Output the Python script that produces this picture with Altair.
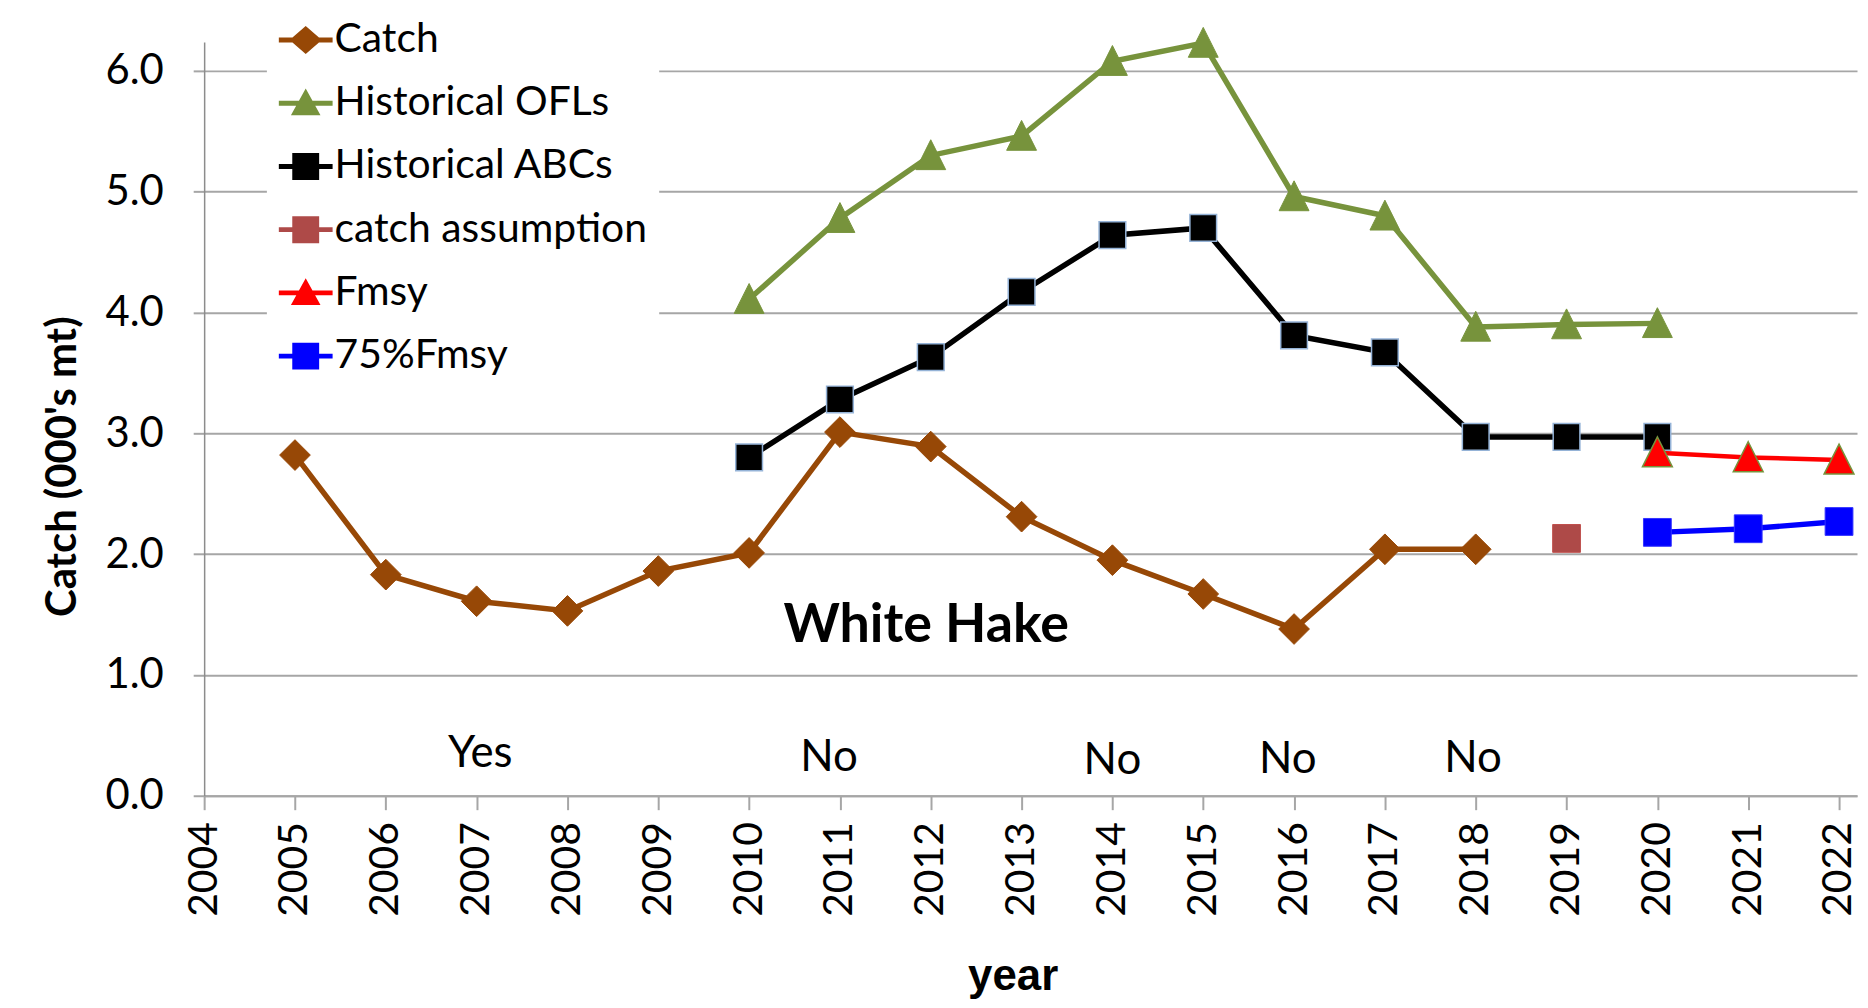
import altair as alt
import pandas as pd

# ---------------- data ----------------
years_catch = list(range(2005, 2019))
catch = [2.82, 1.83, 1.61, 1.53, 1.86, 2.01, 3.01, 2.89, 2.31, 1.95, 1.67, 1.38, 2.04, 2.04]

years_hist = list(range(2010, 2021))
ofl = [4.11, 4.78, 5.30, 5.46, 6.08, 6.23, 4.96, 4.80, 3.88, 3.90, 3.91]
abc = [2.80, 3.28, 3.63, 4.17, 4.64, 4.70, 3.81, 3.67, 2.97, 2.97, 2.97]

years_assump = [2019]
assump = [2.13]

years_proj = [2020, 2021, 2022]
fmsy = [2.84, 2.80, 2.78]
fmsy75 = [2.18, 2.21, 2.27]

series_names = ["Catch", "Historical OFLs", "Historical ABCs",
                "catch assumption", "Fmsy", "75%Fmsy"]
series_colors = ["#974806", "#77933C", "#000000", "#AE4A48", "#FF0000", "#0000FF"]

note_text = ["Yes", "No", "No", "No", "No"]
note_year = [2007.04, 2010.88, 2014.0, 2015.93, 2017.97]
note_value = [0.239, 0.206, 0.181, 0.190, 0.198]

stock_text = ["White Hake"]
stock_year = [2011.95]
stock_value = [1.269]

x_ticks = list(range(2004, 2023))
y_ticks = [0, 1, 2, 3, 4, 5, 6]

# ---------------- tables ----------------
def frame(years, values, name):
    return pd.DataFrame({"year": years, "value": values, "series": name})

df_catch = frame(years_catch, catch, "Catch")
df_ofl = frame(years_hist, ofl, "Historical OFLs")
df_abc = frame(years_hist, abc, "Historical ABCs")
df_assump = frame(years_assump, assump, "catch assumption")
df_fmsy = frame(years_proj, fmsy, "Fmsy")
df_fmsy75 = frame(years_proj, fmsy75, "75%Fmsy")
df_all = pd.concat([df_catch, df_ofl, df_abc, df_assump, df_fmsy, df_fmsy75])
df_notes = pd.DataFrame({"year": note_year, "value": note_value, "label": note_text})
df_stock = pd.DataFrame({"year": stock_year, "value": stock_value, "label": stock_text})

# ---------------- scales / axes ----------------
GRID = "#A6A6A6"
xscale = alt.Scale(domain=[2004, 2022.198], nice=False, zero=False)
yscale = alt.Scale(domain=[0, 6.239], nice=False, zero=False)

xaxis = alt.Axis(values=x_ticks, format="d", grid=False, labelAngle=270,
                 labelAlign="right", labelBaseline="middle", labelPadding=12,
                 tickSize=14, tickColor=GRID, tickWidth=2,
                 domainColor=GRID, domainWidth=2,
                 labelFont="Lato", labelFontSize=41, labelColor="black",
                 labelFlush=False, labelOverlap=False,
                 title="year", titleFont="Liberation Sans", titleFontWeight="bold",
                 titleFontSize=44, titleColor="black", titleX=812, titleY=195,
                 titleAlign="center", titleBaseline="alphabetic")
yaxis = alt.Axis(values=y_ticks, format=".1f", grid=True, gridColor=GRID, gridWidth=2,
                 domainColor="#8C8C8C", domainWidth=1.5,
                 tickColor=GRID, tickWidth=2, tickSize=11,
                 labelFont="Lato", labelFontSize=42, labelColor="black", labelPadding=30,
                 title="Catch (000's mt)", titleFont="Lato", titleFontWeight="bold",
                 titleFontSize=42, titleColor="black", titleAngle=270,
                 titleX=-142, titleY=426, titleAlign="center", titleBaseline="middle")

X = alt.X("year:Q", scale=xscale, axis=xaxis)
Y = alt.Y("value:Q", scale=yscale, axis=yaxis)

TRI = "M0,-1.05L1,0.95L-1,0.95Z"

def line(df, color, width):
    return alt.Chart(df).mark_line(color=color, strokeWidth=width).encode(x=X, y=Y)

def points(df, shape, size, fill, stroke, sw):
    return alt.Chart(df).mark_point(shape=shape, size=size, filled=True, fill=fill,
                                    stroke=stroke, strokeWidth=sw, opacity=1).encode(x=X, y=Y)

layers = [
    line(df_catch, "#974806", 5.5),
    points(df_catch, "diamond", 950, "#974806", "#974806", 1),
    line(df_ofl, "#77933C", 5.5),
    points(df_ofl, TRI, 900, "#77933C", "#77933C", 1),
    line(df_abc, "#000000", 5.5),
    points(df_abc, "square", 720, "#000000", "#95B3D7", 1.5),
    points(df_assump, "square", 780, "#AE4A48", "#C0504D", 1),
    line(df_fmsy, "#FF0000", 4.5),
    points(df_fmsy, TRI, 900, "#FF0000", "#77933C", 1.5),
    line(df_fmsy75, "#0000FF", 5.5),
    points(df_fmsy75, "square", 780, "#0000FF", "#3333FF", 1),
]

# ---------------- legend (Excel-style line + marker symbols) ----------------
BAR = "M-1,-0.09H1V0.09H-1Z"
legend_paths = [
    BAR + "M0,-0.52L0.6,0L0,0.52L-0.6,0Z",
    BAR + "M0,-0.55L0.55,0.45L-0.55,0.45Z",
    BAR + "M-0.5,-0.5H0.5V0.5H-0.5Z",
    BAR + "M-0.5,-0.5H0.5V0.5H-0.5Z",
    BAR + "M0,-0.55L0.55,0.45L-0.55,0.45Z",
    BAR + "M-0.5,-0.5H0.5V0.5H-0.5Z",
]
leg = alt.Legend(title=None, orient="none", legendX=63, legendY=-41,
                 fillColor="white", padding=12,
                 labelFont="Lato", labelFontSize=41, labelColor="black",
                 labelLimit=600, labelOffset=2,
                 symbolSize=2916, symbolOpacity=1, symbolStrokeWidth=0,
                 rowPadding=16.5)
legend_layer = alt.Chart(df_all).mark_point(filled=True, opacity=0).encode(
    x=X, y=Y,
    color=alt.Color("series:N", scale=alt.Scale(domain=series_names, range=series_colors), legend=leg),
    shape=alt.Shape("series:N", scale=alt.Scale(domain=series_names, range=legend_paths), legend=leg),
)

notes = alt.Chart(df_notes).mark_text(font="Lato", fontSize=44, color="black",
                                      align="center", baseline="alphabetic").encode(
    x=X, y=Y, text="label:N")
stock = alt.Chart(df_stock).mark_text(font="Lato", fontSize=54, fontWeight="bold",
                                      color="black", align="center",
                                      baseline="alphabetic").encode(
    x=X, y=Y, text="label:N")

chart = alt.layer(*layers, legend_layer, notes, stock).properties(
    width=1660, height=757,
    autosize=alt.AutoSizeParams(type="none"),
    padding={"left": 197, "top": 32, "right": 3, "bottom": 205},
    background="white",
).configure_view(strokeWidth=0)

chart.save("out.html", embed_options={"renderer": "svg", "actions": False})
